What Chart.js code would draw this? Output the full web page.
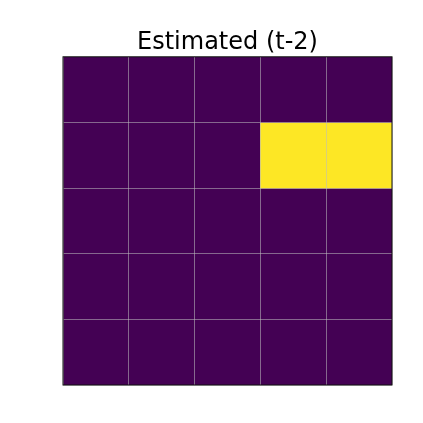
<!DOCTYPE html>
<html><head><meta charset="utf-8">
<script src="https://cdn.jsdelivr.net/npm/chart.js@4/dist/chart.umd.min.js"></script>
<style>html,body{margin:0;padding:0;background:#fff}#wrap{width:423px;height:423px}</style>
</head><body><div id="wrap"><canvas id="c" width="423" height="423"></canvas></div>
<script>
const columns = ['0','1','2','3','4'];
const rows = ['0','1','2','3','4'];
const row0 = [0,0,0,0,0];
const row1 = [0,0,0,1,1];
const row2 = [0,0,0,0,0];
const row3 = [0,0,0,0,0];
const row4 = [0,0,0,0,0];
const matrix = [row0,row1,row2,row3,row4];
const lowColor = '#440154';
const highColor = '#fde725';

const datasets = matrix.map((vals, r) => ({
  label: 'row ' + rows[r],
  data: vals.map(() => [r, r + 1]),
  backgroundColor: vals.map(v => v >= 0.5 ? highColor : lowColor),
  borderWidth: 0,
  barPercentage: 1,
  categoryPercentage: 1,
  grouped: false
}));

const frame = {
  id: 'frame',
  afterDraw(chart) {
    const a = chart.chartArea, ctx = chart.ctx;
    ctx.save();
    ctx.strokeStyle = '#111';
    ctx.lineWidth = 1;
    ctx.strokeRect(a.left, a.top, a.right - a.left, a.bottom - a.top);
    ctx.restore();
  }
};

new Chart(document.getElementById('c'), {
  type: 'bar',
  data: { labels: columns, datasets },
  options: {
    responsive: false,
    animation: false,
    layout: { padding: { left: 63, right: 31, top: 0, bottom: 38 } },
    plugins: {
      legend: { display: false },
      tooltip: { enabled: false },
      title: {
        display: true,
        text: 'Estimated (t-2)',
        color: '#000',
        font: { family: 'DejaVu Sans', size: 24, weight: 'normal', lineHeight: 1.2 },
        padding: { top: 28, bottom: 0 }
      }
    },
    scales: {
      x: {
        type: 'category',
        offset: true,
        ticks: { display: false },
        border: { display: false },
        grid: { offset: true, drawTicks: false, color: 'rgba(190,190,190,0.55)', lineWidth: 1, z: 1 }
      },
      y: {
        type: 'linear',
        min: 0, max: 5,
        reverse: true,
        ticks: { display: false, stepSize: 1 },
        border: { display: false },
        grid: { drawTicks: false, color: 'rgba(190,190,190,0.55)', lineWidth: 1, z: 1 }
      }
    }
  },
  plugins: [frame]
});
</script></body></html>
